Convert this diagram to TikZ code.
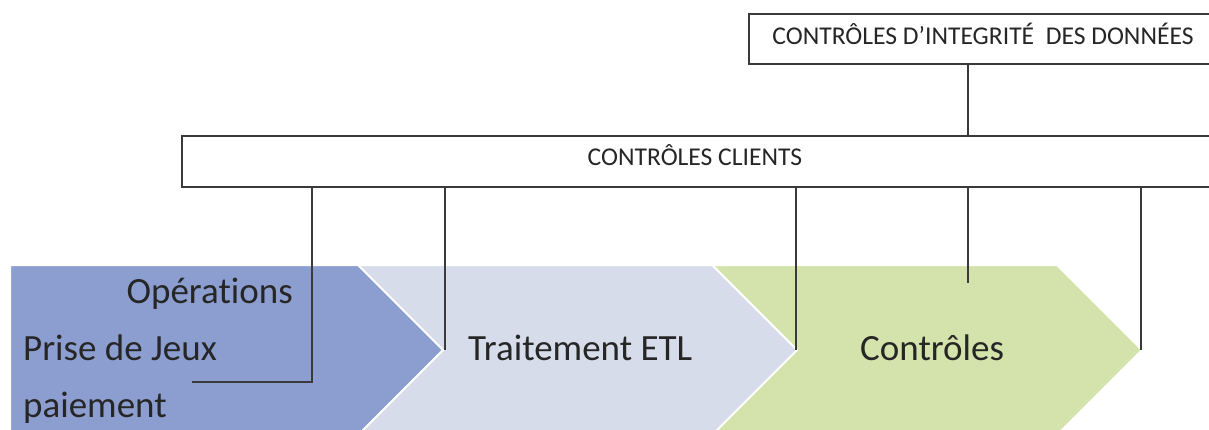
\documentclass[tikz,border=0pt]{standalone}
\usepackage{fontspec}
\setmainfont{Carlito}[Ligatures={NoCommon,NoContextual},RawFeature={-liga;-clig;-calt}]
\definecolor{cblue}{HTML}{8C9ECF}
\definecolor{clav}{HTML}{D6DCEA}
\definecolor{cgreen}{HTML}{D4E3AB}
\definecolor{ctext}{HTML}{262626}
\definecolor{cline}{HTML}{3A3A3A}
\begin{document}
\begin{tikzpicture}[x=1pt,y=-1pt,
  chev/.style={draw=white,line width=2pt},
  box/.style={draw=cline,line width=1.2pt,fill=white},
  conn/.style={draw=cline,line width=1.2pt},
  big/.style={font=\fontsize{37}{40}\selectfont,text=ctext,inner sep=0pt},
  small/.style={font=\fontsize{25.6}{28}\selectfont,text=ctext,inner sep=0pt}]
\useasboundingbox (0,0) rectangle (1209,430);
\clip (0,0) rectangle (1209,430);
% chevrons
\fill[cgreen,chev] (712,265) -- (1057,265) -- (1142,350) -- (1057,435) -- (712,435) -- (797,350) -- cycle;
\fill[clav,chev] (358,265) -- (712,265) -- (797,350) -- (712,435) -- (358,435) -- (443,350) -- cycle;
\fill[cblue,chev] (10,265) -- (358,265) -- (443,350) -- (358,435) -- (10,435) -- cycle;
% boxes
\path[box] (749,14) rectangle (1220,64);
\node[small,anchor=base] (integ) at (983,45) {CONTRÔLES D’INTEGRITÉ\ \ DES DONNÉES};
\path[box] (182,136) rectangle (1220,187);
\node[small,anchor=base] (clients) at (695,166) {CONTRÔLES CLIENTS};
% anchor coordinates
\coordinate (itop) at (968,64);
\coordinate (ctop) at (968,136);
\coordinate (c1) at (312,187);
\coordinate (c2) at (445,187);
\coordinate (c3) at (796,187);
\coordinate (c4) at (968,187);
\coordinate (c5) at (1141,187);
\coordinate (e1a) at (312,382);
\coordinate (e1b) at (192,382);
\coordinate (e2) at (445,350);
\coordinate (e3) at (796,350);
\coordinate (e4) at (968,283);
\coordinate (e5) at (1141,350);
% texts
\node[big,anchor=base east] (ops) at (293,303) {Opérat\kern0pt ions};
\node[big,anchor=base west] (prise) at (23,360) {Prise de Jeux};
\node[big,anchor=base west] (paie) at (23,417) {paiement};
\node[big,anchor=base west] (etl) at (468,360) {Traitement ETL};
\node[big,anchor=base west] (ctrl) at (860,360) {Contrôles};
% connectors
\draw[conn] (itop) -- (ctop);
\draw[conn] (c1) -- (e1a) -- (e1b);
\draw[conn] (c2) -- (e2);
\draw[conn] (c3) -- (e3);
\draw[conn] (c4) -- (e4);
\draw[conn] (c5) -- (e5);
\end{tikzpicture}
\end{document}
